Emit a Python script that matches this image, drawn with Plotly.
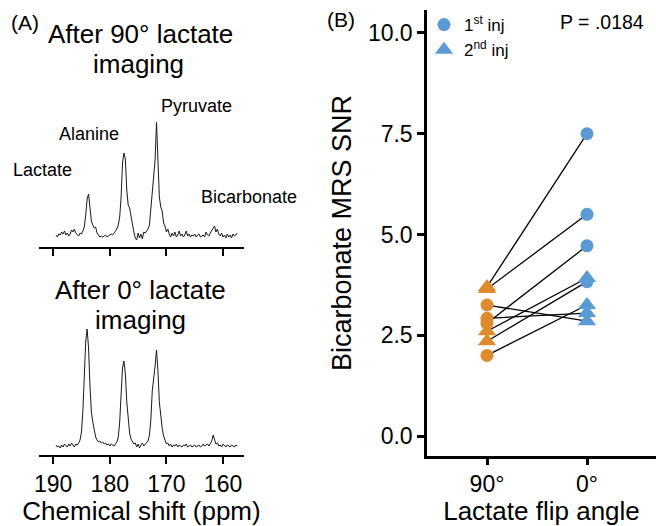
import numpy as np
import plotly.graph_objects as go

W, H = 656, 526
def fx(px): return px / W
def fy(py): return 1 - py / H

# ---------------- Panel A data: spectra (intensity above baseline) ----------------
ppm_start, ppm_end = 189.5, 157.5
spec_90 = [0, -2, 1, 0, 3, 1, 4, 0, 2, -1, 1, 5, 3, 6, 2, 0, -1, 2, 1, 4,
           8, 20, 36, 41, 27, 14, 10, 7, 8, 2, 0, -2, -1, -2, -1, 0, -2, -1, 0, 1,
           0, 2, 3, 6, 10, 18, 38, 72, 82, 76, 45, 30, 27, 18, 9, 3, -3, -5, 2, -3,
           1, -4, 3, 2, 4, 6, 10, 25, 42, 52, 75, 113, 72, 38, 28, 24, 12, 9, 3, 6,
           1, -2, 2, -1, 3, -2, 0, 4, -1, 1, -2, 0, 4, -1, 1, -2, 0, -1, 1, -2,
           0, 1, -2, -1, 0, -2, 3, 0, -1, 2, 4, 7, 9, 3, 6, 1, -1, 2, -2, 0,
           -3, 1, -2, 0, -3, 1, -1, 0, 2]
spec_0 = [1, -1, 0, -2, 1, -1, 2, 0, -1, 2, 0, 3, 1, -1, 2, 1, 3, 6, 14, 35,
          70, 105, 117, 98, 60, 34, 24, 14, 9, 6, 4, 5, 3, 4, 2, 3, 1, 2, 0, 2,
          1, 0, 2, 4, 9, 24, 52, 78, 85, 72, 44, 24, 13, 7, 4, 2, 3, -1, 2, -2,
          1, 3, 0, 2, 3, 5, 11, 26, 55, 72, 80, 96, 76, 44, 27, 18, 10, 5, 2, 3,
          0, 2, -1, 1, 0, 2, -1, 1, 0, -1, 1, 0, 2, -1, 0, 1, -1, 0, 1, -1,
          0, 1, -1, 0, 2, 0, 1, 2, 0, 3, 5, 11, 5, 2, 3, 0, 1, -1, 2, 0,
          -1, 1, 0, -1, 1, 0, -1, 1, 0]
ppm = np.linspace(ppm_start, ppm_end, len(spec_90))
ppm_ticks = [190, 180, 170, 160]
peak_labels = ["Lactate", "Alanine", "Pyruvate", "Bicarbonate"]

# ---------------- Panel B data ----------------
flip_labels = ["90°", "0°"]
snr_90 = [3.70, 3.65, 2.80, 2.60, 2.35, 3.25, 2.92, 2.00]
inj_90 = [2, 2, 1, 2, 2, 1, 1, 1]
snr_0 = [7.50, 5.50, 4.72, 3.92, 3.83, 2.85, 3.05, 3.25]
inj_0 = [1, 1, 1, 2, 1, 2, 2, 2]
y_ticks = [0.0, 2.5, 5.0, 7.5, 10.0]
p_text = "P = .0184"

ORANGE = "#DE8A2E"
BLUE = "#5B9BD5"
FONT = "Liberation Sans"

fig = go.Figure()

# spectra
fig.add_trace(go.Scatter(x=ppm, y=spec_90, mode="lines", line=dict(color="#1a1a1a", width=1),
                         xaxis="x", yaxis="y", showlegend=False, hoverinfo="skip"))
fig.add_trace(go.Scatter(x=ppm, y=spec_0, mode="lines", line=dict(color="#1a1a1a", width=1),
                         xaxis="x2", yaxis="y2", showlegend=False, hoverinfo="skip"))

# connecting lines
lx, ly = [], []
for a, b in zip(snr_90, snr_0):
    lx += [1, 2, None]
    ly += [a, b, None]
fig.add_trace(go.Scatter(x=lx, y=ly, mode="lines", line=dict(color="black", width=1.3),
                         xaxis="x3", yaxis="y3", showlegend=False, hoverinfo="skip"))

sym = {1: "circle", 2: "triangle-up"}
size = {1: 13, 2: 16}
names = {1: "1<sup>st</sup> inj", 2: "2<sup>nd</sup> inj"}
for inj in (1, 2):
    ys = [v for v, g in zip(snr_90, inj_90) if g == inj]
    fig.add_trace(go.Scatter(x=[1] * len(ys), y=ys, mode="markers",
                             marker=dict(color=ORANGE, symbol=sym[inj], size=size[inj], line=dict(width=0)),
                             xaxis="x3", yaxis="y3", showlegend=False, cliponaxis=False))
for inj in (1, 2):
    ys = [v for v, g in zip(snr_0, inj_0) if g == inj]
    fig.add_trace(go.Scatter(x=[2] * len(ys), y=ys, mode="markers", name=names[inj],
                             marker=dict(color=BLUE, symbol=sym[inj], size=size[inj], line=dict(width=0)),
                             xaxis="x3", yaxis="y3", showlegend=True, cliponaxis=False))

spec_x = dict(range=[192.5, 156.3], domain=[fx(39), fx(244)], showline=True, linecolor="black",
              linewidth=2, ticks="outside", ticklen=7, tickwidth=2, tickcolor="black",
              tickvals=ppm_ticks, showgrid=False, zeroline=False, automargin=False,
              tickfont=dict(size=23, color="black", family=FONT))

fig.update_layout(
    width=W, height=H, margin=dict(l=0, r=0, t=0, b=0),
    paper_bgcolor="white", plot_bgcolor="white",
    font=dict(family=FONT, color="black"),
    xaxis=dict(spec_x, anchor="y", showticklabels=False),
    yaxis=dict(domain=[fy(247), fy(100)], range=[-12, 135], visible=False, anchor="x"),
    xaxis2=dict(spec_x, anchor="y2", showticklabels=True,
                title=dict(text="Chemical shift (ppm)", font=dict(size=26, family=FONT), standoff=4)),
    yaxis2=dict(domain=[fy(455), fy(300)], range=[-9, 146], visible=False, anchor="x2"),
    xaxis3=dict(domain=[fx(427), 1], range=[0.4, 2.69], anchor="y3", showline=True, linecolor="black",
                linewidth=2.5, ticks="outside", ticklen=6, tickwidth=2.5, tickcolor="black",
                tickvals=[1, 2], ticktext=flip_labels, showgrid=False, zeroline=False, automargin=False,
                tickfont=dict(size=23, family=FONT),
                title=dict(text="Lactate flip angle", font=dict(size=26, family=FONT), standoff=4)),
    yaxis3=dict(domain=[fy(456), fy(10)], range=[-0.496, 10.57], anchor="x3", showline=True,
                linecolor="black", linewidth=2.5, ticks="outside", ticklen=7, tickwidth=2.5,
                tickcolor="black", tickvals=y_ticks, tickformat=".1f", showgrid=False, zeroline=False,
                automargin=False, tickfont=dict(size=23, family=FONT),
                title=dict(text="Bicarbonate MRS SNR", font=dict(size=27, family=FONT), standoff=9)),
    legend=dict(x=fx(424), y=fy(7), xanchor="left", yanchor="top", bgcolor="rgba(0,0,0,0)",
                font=dict(size=17, family=FONT), itemsizing="trace", tracegroupgap=0),
    showlegend=True,
)

ann = [
    ("(A)", 25, 22, 21), ("After 90° lactate", 140, 34, 26), ("imaging", 138, 64, 26),
    ("After 0° lactate", 140, 290, 26), ("imaging", 140, 320, 26),
    (peak_labels[0], 42, 170, 18), (peak_labels[1], 89, 134, 18), (peak_labels[2], 196, 106, 18),
    (peak_labels[3], 249, 197, 18),
    ("(B)", 341, 20, 21), (p_text, 602, 22, 19.5),
]
for t, x, y, s in ann:
    fig.add_annotation(text=t, x=fx(x), y=fy(y), xref="paper", yref="paper", showarrow=False,
                       xanchor="center", yanchor="middle", font=dict(size=s, family=FONT, color="black"))

fig.write_html("out.html")
